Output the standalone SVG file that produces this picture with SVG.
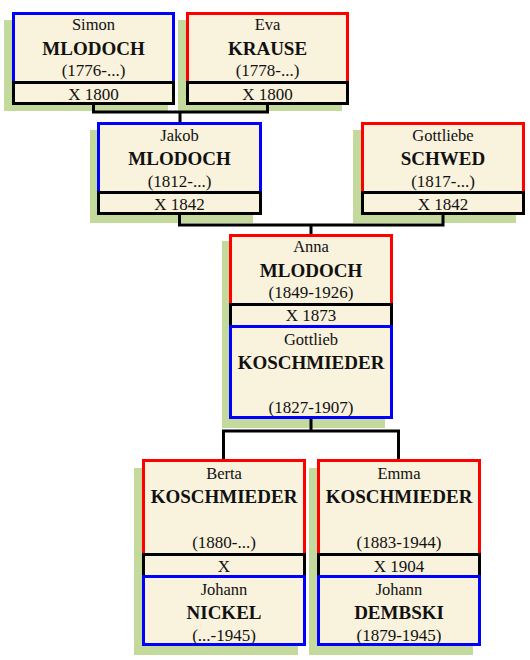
<svg xmlns="http://www.w3.org/2000/svg" width="530" height="660" viewBox="0 0 530 660">
<style>
.bg{fill:#fff}
.sh{fill:#c4d99c}
.p{fill:#f9f2dc;stroke-width:3}
.m{stroke:#0000ff}
.f{stroke:#ff0000}
.x{fill:#f9f2dc;stroke:#000;stroke-width:3}
.c{fill:none;stroke:#000;stroke-width:3}
text{font-family:"Liberation Serif","Times New Roman",serif;text-anchor:middle;fill:#111}
.g{font-size:16.5px}
.s{font-size:19px;font-weight:bold}
.d{font-size:17px}
</style>
<rect class="bg" x="0" y="0" width="530" height="660"/>
<g id="shadows">
<rect class="sh" x="4" y="20" width="164" height="91"/>
<rect class="sh" x="178" y="20" width="164" height="91"/>
<rect class="sh" x="90" y="130" width="163" height="93"/>
<rect class="sh" x="353" y="130" width="163" height="93"/>
<rect class="sh" x="222" y="241" width="163" height="187"/>
<rect class="sh" x="134" y="468" width="164" height="187"/>
<rect class="sh" x="309" y="468" width="164" height="187"/>
</g>
<g id="connectors">
<path class="c" d="M93.5,104 V112 H267.5 V104 M180,112 V123"/>
<path class="c" d="M179.5,214 V225 H443 V214 M311,225 V235"/>
<path class="c" d="M311,418 V431 M223.5,431 H398.5 M223.5,429.5 V460 M398.5,429.5 V460"/>
</g>
<g id="simon">
<rect class="p m" x="13.5" y="13.5" width="160" height="69"/>
<rect class="x" x="13.5" y="82.5" width="160" height="21"/>
<text class="g" x="93.5" y="30">Simon</text>
<text class="s" x="93.5" y="55">MLODOCH</text>
<text class="d" x="93.5" y="76">(1776-...)</text>
<text class="d" x="93.5" y="100">X 1800</text>
</g>
<g id="eva">
<rect class="p f" x="187.5" y="13.5" width="160" height="69"/>
<rect class="x" x="187.5" y="82.5" width="160" height="21"/>
<text class="g" x="267.5" y="30">Eva</text>
<text class="s" x="267.5" y="55">KRAUSE</text>
<text class="d" x="267.5" y="76">(1778-...)</text>
<text class="d" x="267.5" y="100">X 1800</text>
</g>
<g id="jakob">
<rect class="p m" x="98.5" y="123.5" width="162" height="69"/>
<rect class="x" x="98.5" y="192.5" width="162" height="21"/>
<text class="g" x="179.5" y="141">Jakob</text>
<text class="s" x="179.5" y="165">MLODOCH</text>
<text class="d" x="179.5" y="187">(1812-...)</text>
<text class="d" x="179.5" y="210">X 1842</text>
</g>
<g id="gottliebe">
<rect class="p f" x="362.5" y="123.5" width="161" height="69"/>
<rect class="x" x="362.5" y="192.5" width="161" height="21"/>
<text class="g" x="443" y="141">Gottliebe</text>
<text class="s" x="443" y="165">SCHWED</text>
<text class="d" x="443" y="187">(1817-...)</text>
<text class="d" x="443" y="210">X 1842</text>
</g>
<g id="anna">
<rect class="p f" x="230.5" y="235.5" width="161" height="69"/>
<rect class="x" x="230.5" y="304.5" width="161" height="22"/>
<rect class="p m" x="230.5" y="326.5" width="161" height="91"/>
<text class="g" x="311" y="252">Anna</text>
<text class="s" x="311" y="277">MLODOCH</text>
<text class="d" x="311" y="298">(1849-1926)</text>
<text class="d" x="311" y="321">X 1873</text>
<text class="g" x="311" y="345">Gottlieb</text>
<text class="s" x="311" y="369">KOSCHMIEDER</text>
<text class="d" x="311" y="413">(1827-1907)</text>
</g>
<g id="berta">
<rect class="p f" x="143.5" y="460.5" width="161" height="94"/>
<rect class="x" x="143.5" y="554.5" width="161" height="22"/>
<rect class="p m" x="143.5" y="576.5" width="161" height="68"/>
<text class="g" x="224" y="479">Berta</text>
<text class="s" x="224" y="503">KOSCHMIEDER</text>
<text class="d" x="224" y="548">(1880-...)</text>
<text class="d" x="224" y="572">X</text>
<text class="g" x="224" y="595">Johann</text>
<text class="s" x="224" y="619">NICKEL</text>
<text class="d" x="224" y="641">(...-1945)</text>
</g>
<g id="emma">
<rect class="p f" x="318.5" y="460.5" width="161" height="94"/>
<rect class="x" x="318.5" y="554.5" width="161" height="22"/>
<rect class="p m" x="318.5" y="576.5" width="161" height="68"/>
<text class="g" x="399" y="479">Emma</text>
<text class="s" x="399" y="503">KOSCHMIEDER</text>
<text class="d" x="399" y="548">(1883-1944)</text>
<text class="d" x="399" y="572">X 1904</text>
<text class="g" x="399" y="595">Johann</text>
<text class="s" x="399" y="619">DEMBSKI</text>
<text class="d" x="399" y="641">(1879-1945)</text>
</g>
</svg>
